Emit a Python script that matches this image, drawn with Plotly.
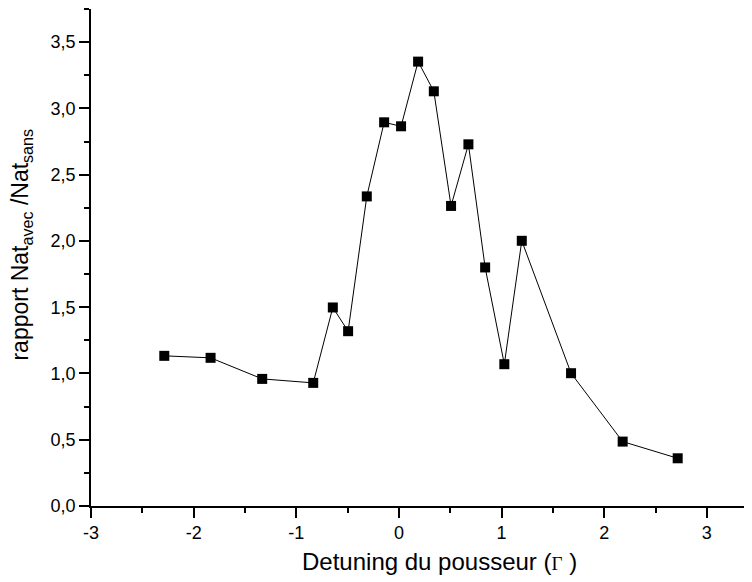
import plotly.graph_objects as go

# Data
detuning = [-2.286, -1.835, -1.332, -0.835, -0.644, -0.495, -0.313, -0.144, 0.021,
            0.187, 0.340, 0.508, 0.677, 0.840, 1.027, 1.197, 1.677, 2.180, 2.716]
rapport = [1.133, 1.118, 0.959, 0.929, 1.498, 1.319, 2.336, 2.895, 2.865,
           3.353, 3.129, 2.264, 2.729, 1.800, 1.070, 2.001, 1.002, 0.486, 0.360]

x_tick_vals = [-3, -2, -1, 0, 1, 2, 3]
x_tick_text = ["-3", "-2", "-1", "0", "1", "2", "3"]
y_tick_vals = [0.0, 0.5, 1.0, 1.5, 2.0, 2.5, 3.0, 3.5]
y_tick_text = ["0,0", "0,5", "1,0", "1,5", "2,0", "2,5", "3,0", "3,5"]

x_title = "Detuning du pousseur (<span style=\"font-family:Liberation Serif;font-size:19px\">Γ</span> )"
y_title = "rapport Nat<sub>avec</sub> /Nat<sub>sans</sub>"

FONT = "Liberation Sans, Arial, sans-serif"

fig = go.Figure()
fig.add_trace(go.Scatter(
    x=detuning, y=rapport, mode="lines+markers",
    line=dict(color="black", width=1),
    marker=dict(symbol="square", size=10, color="black"),
    showlegend=False,
))

fig.update_layout(
    width=752, height=582,
    paper_bgcolor="white", plot_bgcolor="white",
    margin=dict(l=83, r=8, t=1, b=84),
    font=dict(family=FONT, color="black"),
    xaxis=dict(
        range=[-3, 3.44], showgrid=False, zeroline=False, automargin=False,
        showline=True, linecolor="black", linewidth=1.5,
        ticks="outside", ticklen=10, tickwidth=1.5, tickcolor="black",
        tickvals=x_tick_vals, ticktext=x_tick_text,
        tickfont=dict(size=18, family=FONT),
        minor=dict(ticks="outside", ticklen=5, tickwidth=1.5, tickcolor="black", dtick=0.5, tick0=-3),
    ),
    yaxis=dict(
        range=[0, 3.75], showgrid=False, zeroline=False, automargin=False,
        showline=True, linecolor="black", linewidth=1.5,
        ticks="outside", ticklen=10, tickwidth=1.5, tickcolor="black",
        tickvals=y_tick_vals, ticktext=y_tick_text,
        tickfont=dict(size=18, family=FONT),
        minor=dict(ticks="outside", ticklen=5, tickwidth=1.5, tickcolor="black", dtick=0.25, tick0=0),
    ),
    annotations=[
        dict(text=x_title, xref="paper", yref="paper", x=0.5265, y=-0.1107,
             xanchor="center", yanchor="middle", showarrow=False,
             font=dict(size=24, family=FONT)),
        dict(text=y_title, xref="paper", yref="paper", x=-0.1044, y=0.526,
             xanchor="center", yanchor="middle", showarrow=False, textangle=-90,
             font=dict(size=23, family=FONT)),
    ],
)

fig.write_html("out.html")
